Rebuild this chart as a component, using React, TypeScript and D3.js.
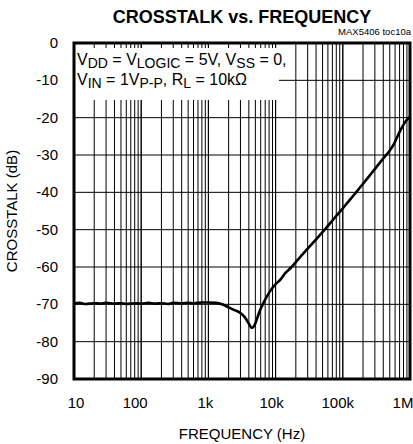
import React from "react";
import * as d3 from "d3";

const freqs = [10, 12, 15, 20, 25, 30, 40, 50, 60, 80, 100, 130, 160, 200, 250, 300, 400, 500, 600, 800, 1000, 1300, 1600, 2000, 2500, 3000, 3500, 4000, 4400, 4800, 5200, 5800, 6600, 8200, 10000, 11600, 14000, 17300, 22000, 30000, 40000, 53800, 72000, 100000, 130000, 161000, 200000, 254000, 320000, 401000, 504000, 570000, 633000, 710000, 794000, 870000, 944000, 1000000];
const crosstalk = [-69.8, -69.6, -69.9, -69.7, -69.8, -69.6, -69.8, -69.7, -69.9, -69.7, -69.8, -69.6, -69.8, -69.7, -69.9, -69.6, -69.7, -69.6, -69.7, -69.5, -69.5, -69.6, -70.0, -70.8, -71.6, -72.3, -73.5, -75.2, -76.3, -75.8, -74.2, -71.8, -69.6, -66.6, -64.6, -63.5, -61.6, -60.0, -57.8, -55.1, -52.6, -50.0, -47.3, -44.3, -41.8, -39.8, -37.7, -35.4, -33.1, -30.9, -28.7, -27.2, -25.5, -23.6, -22.0, -20.9, -20.2, -19.8];

const xTickValues = [10, 100, 1000, 10000, 100000, 1000000];
const xTickLabels = ["10", "100", "1k", "10k", "100k", "1M"];
const yTickValues = [0, -10, -20, -30, -40, -50, -60, -70, -80, -90];

const W = 413;
const H = 444;
const M = { left: 74, right: 3, top: 43, bottom: 65 };

export default function App() {
  const x = d3.scaleLog().domain([10, 1e6]).range([M.left, W - M.right]);
  const y = d3.scaleLinear().domain([0, -90]).range([M.top, H - M.bottom]);

  const minor: number[] = [];
  for (let dec = 10; dec < 1e6; dec *= 10) {
    for (let k = 1; k <= 10; k++) minor.push(dec * k);
  }

  const line = d3
    .line<number>()
    .x((_, i) => x(freqs[i]))
    .y((d) => y(d))
    .curve(d3.curveMonotoneX);

  const labelDx = [2, -6, -3, -4, -5, -7];
  const font = "Liberation Sans, Arial, sans-serif";
  const x0 = x(10);
  const x1 = x(1e6);
  const y0 = y(0);
  const y1 = y(-90);

  return (
    <svg width={W} height={H} style={{ position: "absolute", left: 0, top: 0 }} fontFamily={font}>
      <rect x={0} y={0} width={W} height={H} fill="#fff" />
      {minor.map((f, i) => (
        <line key={"v" + i} x1={x(f)} x2={x(f)} y1={y0} y2={y1} stroke="#000" strokeWidth={1} />
      ))}
      {yTickValues.map((v) => (
        <line key={"h" + v} x1={x0} x2={x1} y1={y(v)} y2={y(v)} stroke="#000" strokeWidth={1} />
      ))}
      <rect x={x0} y={48} width={279 - x0} height={52} fill="#fff" />
      <text x={77} y={65} fontSize={16}>
        V<tspan fontSize={14} dy={3}>DD</tspan>
        <tspan dy={-3}> = V</tspan>
        <tspan fontSize={14} dy={3}>LOGIC</tspan>
        <tspan dy={-3}> = 5V, V</tspan>
        <tspan fontSize={14} dy={3}>SS</tspan>
        <tspan dy={-3}> = 0,</tspan>
      </text>
      <text x={77} y={85} fontSize={16}>
        V<tspan fontSize={14} dy={3}>IN</tspan>
        <tspan dy={-3}> = 1V</tspan>
        <tspan fontSize={14} dy={3}>P-P</tspan>
        <tspan dy={-3}>, R</tspan>
        <tspan fontSize={14} dy={3}>L</tspan>
        <tspan dy={-3}> = 10kΩ</tspan>
      </text>
      <path d={line(crosstalk) || ""} fill="none" stroke="#000" strokeWidth={2.6} strokeLinejoin="round" />
      <rect x={x0} y={y0} width={x1 - x0} height={y1 - y0} fill="none" stroke="#000" strokeWidth={3} />
      {yTickValues.map((v) => (
        <text key={"yl" + v} x={58} y={y(v) + 5} fontSize={15} textAnchor="end">
          {v}
        </text>
      ))}
      {xTickValues.map((v, i) => (
        <text key={"xl" + v} x={x(v) + labelDx[i]} y={408} fontSize={15} textAnchor="middle">
          {xTickLabels[i]}
        </text>
      ))}
      <text x={242} y={439} fontSize={15} textAnchor="middle">
        FREQUENCY (Hz)
      </text>
      <text transform={`translate(17,${(y0 + y1) / 2}) rotate(-90)`} fontSize={15} textAnchor="middle">
        CROSSTALK (dB)
      </text>
      <text x={242} y={23} fontSize={18} fontWeight="bold" textAnchor="middle">
        CROSSTALK vs. FREQUENCY
      </text>
      <text x={411} y={35} fontSize={9.5} textAnchor="end">
        MAX5406 toc10a
      </text>
    </svg>
  );
}
